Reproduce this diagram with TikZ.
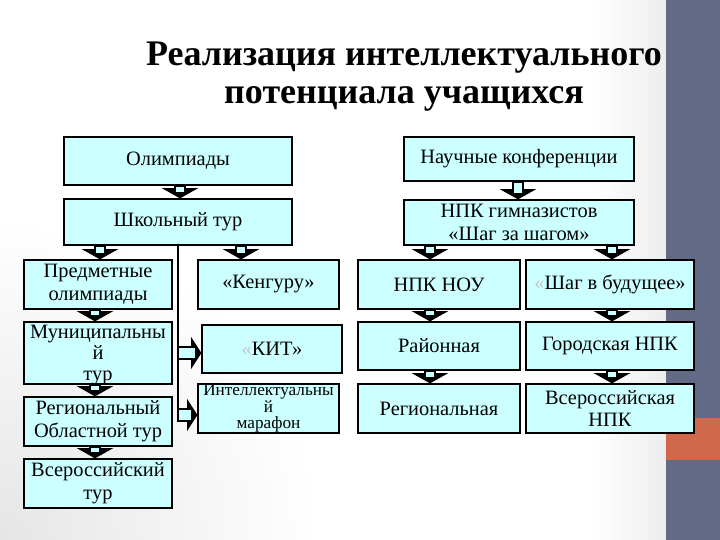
\documentclass[tikz,border=0pt]{standalone}
\usepackage{fontspec}
\setmainfont{Liberation Serif}
\usetikzlibrary{calc}
\definecolor{boxcyan}{HTML}{CCFFFF}
\definecolor{stripcol}{HTML}{636A86}
\definecolor{orngcol}{HTML}{D2684B}
\tikzset{
  box/.style={draw=black, line width=1.3pt, fill=boxcyan, inner sep=0pt, align=center,
    font=\fontsize{10.2}{11.4}\selectfont},
  ovtext/.style={inner sep=0pt, align=center},
  bhead/.style={fill=black, draw=black, line width=0.6pt, line join=miter},
  bshaft/.style={draw=black, line width=0.9pt, fill=boxcyan},
  vline/.style={draw=black, line width=1.3pt},
  titlestyle/.style={align=center, font=\bfseries\fontsize{18}{19}\selectfont}
}
\newcommand\bx[6]{\node[box, minimum width={(#4-#2)*0.5pt}, minimum height={(#5-#3)*0.5pt}] (#1) at ({(#2+#4)/2},{(#3+#5)/2}) {#6};}
% down block arrow: from node #1 to node #2 at x = #3 (px)
\newcommand\darr[3]{%
  \path[bhead] let \p1=(#1.south), \p2=(#2.north), \p3=(#3,0) in
    (\x3-8pt,\y2+4.5pt) -- (\x3,\y2) -- (\x3+8pt,\y2+4.5pt) -- cycle;
  \path[bshaft] let \p1=(#1.south), \p2=(#2.north), \p3=(#3,0) in
    (\x3-2.5pt,\y1) rectangle (\x3+2.5pt,\y2+2.6pt);}
% right block arrow: from coordinate #1 to node #2
\newcommand\rarr[2]{%
  \path[bhead] let \p1=(#1), \p2=(#2.west) in
    (\x2-4.5pt,\y1+7pt) -- (\x2,\y1) -- (\x2-4.5pt,\y1-7pt) -- cycle;
  \path[bshaft] let \p1=(#1), \p2=(#2.west) in
    (\x1,\y1+3pt) rectangle (\x2-2.5pt,\y1-3pt);}
\begin{document}
\begin{tikzpicture}[x=0.5pt,y=-0.5pt]
\useasboundingbox (0,0) rectangle (720,540);
% background
\begin{scope}
  \clip (0,0) rectangle (720,540);
  \fill[white] (0,0) rectangle (720,540);
  \shade[inner color=gray!20, outer color=white] (-320,220) rectangle (320,860);
  \shade[left color=white, right color=gray!14] (590,0) rectangle (666,540);
  \fill[stripcol] (666,0) rectangle (720,540);
  \fill[orngcol] (666,418) rectangle (720,460);
\end{scope}
% title
\node[titlestyle] (title) at (404,77) {Реализация интеллектуального\\потенциала учащихся};
% left column
\bx{olymp}{64}{137}{292}{185}{Олимпиады}
\bx{shk}{64}{199}{292}{245}{Школьный тур}
\bx{pred}{24}{260}{172}{309}{Предметные\\олимпиады}
\bx{keng}{198}{260}{339}{309}{«Кенгуру»}
\bx{mun}{24}{322}{172}{384}{}
\node[ovtext, font=\fontsize{10.2}{10.6}\selectfont] (muntext) at ([yshift=-1pt]mun.center) {Муниципальны\\й\\тур};
\bx{kit}{202}{325}{342}{373}{{\color{gray!45}«}КИТ»}
\bx{mar}{198}{384}{339}{433}{}
\node[ovtext, font=\fontsize{8.6}{8.2}\selectfont] (martext) at (mar.center) {Интеллектуальны\\й\\марафон};
\bx{reg}{24}{397}{172}{446}{Региональный\\Областной тур}
\bx{vser}{24}{459}{172}{508}{Всероссийский\\тур}
% right column
\bx{nauch}{404}{137}{634}{181}{Научные конференции}
\bx{npk}{404}{200}{634}{245}{НПК гимназистов\\«Шаг за шагом»}
\bx{nou}{358}{260}{520}{309}{НПК НОУ}
\bx{shag}{526}{260}{694}{309}{{\color{gray!45}«}Шаг в будущее»}
\bx{rayon}{358}{322}{520}{370}{Районная}
\bx{gor}{526}{322}{694}{370}{Городская НПК}
\bx{regn}{358}{384}{520}{433}{Региональная}
\bx{vnpk}{526}{384}{694}{433}{Всероссийская\\НПК}
% arrows
\darr{olymp}{shk}{180}
\darr{shk}{pred}{100}
\darr{shk}{keng}{241}
\darr{pred}{mun}{95}
\darr{mun}{reg}{95}
\darr{reg}{vser}{95}
\darr{nauch}{npk}{518}
\darr{npk}{nou}{430}
\darr{npk}{shag}{612}
\darr{nou}{rayon}{430}
\darr{rayon}{regn}{430}
\darr{shag}{gor}{612}
\darr{gor}{vnpk}{612}
\coordinate (k1) at (178,353);
\coordinate (k2) at (178,415);
\draw[vline] (shk.south -| k1) -- ([yshift=-3pt]k2);
\rarr{k1}{kit}
\rarr{k2}{mar}
\end{tikzpicture}
\end{document}
